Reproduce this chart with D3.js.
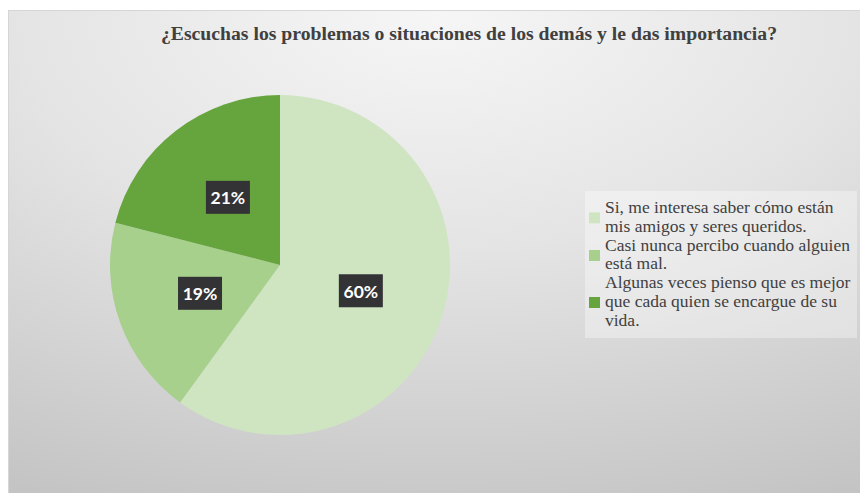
<!DOCTYPE html>
<html>
<head>
<meta charset="utf-8">
<script src="https://cdn.jsdelivr.net/npm/d3@7"></script>
<style>
	html, body { margin: 0; padding: 0; background: #fff; }
	svg { display: block; }
</style>
</head>
<body>
<svg id="chart"></svg>
<script>
const title = "¿Escuchas los problemas o situaciones de los demás y le das importancia?";
const categories = [
	"Si, me interesa saber cómo están mis amigos y seres queridos.",
	"Casi nunca percibo cuando alguien está mal.",
	"Algunas veces pienso que es mejor que cada quien se encargue de su vida."
];
const legendLines = [
	["Si, me interesa saber cómo están", "mis amigos y seres queridos."],
	["Casi nunca percibo cuando alguien", "está mal."],
	["Algunas veces pienso que es mejor", "que cada quien se encargue de su", "vida."]
];
const values = [60, 19, 21];
const colors = ["#cfe5c1", "#a7d08c", "#66a53e"];

const width = 860;
const height = 493;
const cx = 280, cy = 265, radius = 170;

let svg = d3.select("#chart")
	.attr("width", width)
	.attr("height", height);

let defs = svg.append("defs");
let grad = defs.append("radialGradient")
	.attr("id", "bg")
	.attr("cx", "50%").attr("cy", "0%")
	.attr("r", "110%");
grad.append("stop").attr("offset", "0%").attr("stop-color", "#f6f6f6");
grad.append("stop").attr("offset", "45%").attr("stop-color", "#e4e4e4");
grad.append("stop").attr("offset", "100%").attr("stop-color", "#c4c4c4");

// chart area
svg.append("rect")
	.attr("x", 8.5).attr("y", 10.5)
	.attr("width", width - 8).attr("height", height - 10)
	.attr("fill", "url(#bg)")
	.attr("stroke", "#d6d6d6");

svg.append("text")
	.attr("x", 469)
	.attr("y", 40)
	.attr("text-anchor", "middle")
	.style("font-family", "'Liberation Serif', 'Times New Roman', serif")
	.style("font-weight", "bold")
	.style("font-size", "19.7px")
	.attr("fill", "#404040")
	.text(title);

let pie = d3.pie().sort(null).value((d) => d);
let arc = d3.arc().innerRadius(0).outerRadius(radius);
let labelArc = d3.arc().innerRadius(radius * 0.5).outerRadius(radius * 0.5);

let g = svg.append("g").attr("transform", `translate(${cx}, ${cy})`);

let arcs = pie(values);

g.selectAll("path")
	.data(arcs)
	.enter()
	.append("path")
		.attr("d", arc)
		.attr("fill", (d, i) => colors[i]);

let labels = g.selectAll(".lbl")
	.data(arcs)
	.enter()
	.append("g")
		.classed("lbl", true)
		.attr("transform", (d) => `translate(${labelArc.centroid(d)})`);

labels.append("rect")
	.attr("x", -22).attr("y", -17)
	.attr("width", 44).attr("height", 33)
	.attr("fill", "#333335");

labels.append("text")
	.attr("text-anchor", "middle")
	.attr("dy", "0.36em")
	.style("font-family", "Lato, 'Open Sans', sans-serif")
	.style("font-weight", "bold")
	.style("font-size", "17.5px")
	.attr("fill", "#fff")
	.text((d) => d.data + "%");

// legend
let legend = svg.append("g");
legend.append("rect")
	.attr("x", 585).attr("y", 191)
	.attr("width", 272).attr("height", 147)
	.attr("fill", "rgba(255,255,255,0.35)");

const lineH = 18.8;
let lineNo = 0;
legendLines.forEach((lines, i) => {
	let first = lineNo;
	lines.forEach((t) => {
		legend.append("text")
			.attr("x", 605)
			.attr("y", 213 + lineNo * lineH)
			.style("font-family", "'Liberation Serif', 'Times New Roman', serif")
			.style("font-size", "17.5px")
			.attr("fill", "#404040")
			.text(t);
		lineNo++;
	});
	let mid = 208 + (first + (lines.length - 1) / 2) * lineH;
	legend.append("rect")
		.attr("x", 589)
		.attr("y", mid - 5)
		.attr("width", 11).attr("height", 11)
		.attr("fill", colors[i]);
});
</script>
</body>
</html>
